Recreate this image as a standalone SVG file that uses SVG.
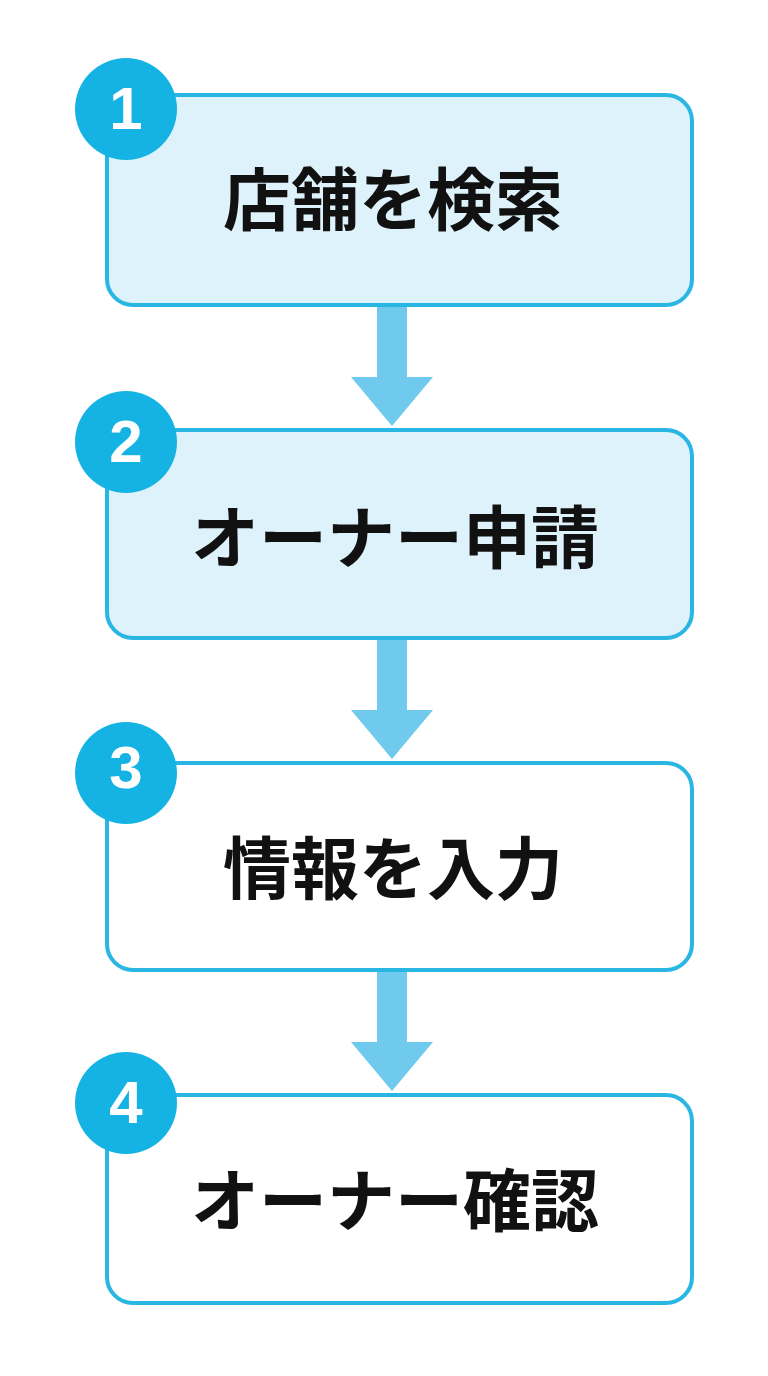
<svg xmlns="http://www.w3.org/2000/svg" width="768" height="1376" viewBox="0 0 768 1376">
<style>
.box{stroke:#29b6e3;stroke-width:4}
.fillb{fill:#def2fb}
.fillw{fill:#ffffff}
.badge{fill:#15b3e3}
.num{font-family:"Liberation Sans",Arial,sans-serif;font-weight:bold;font-size:60px;fill:#ffffff;text-anchor:middle}
.lbl{font-family:"Noto Sans CJK JP","Noto Sans",sans-serif;font-weight:700;font-size:68px;fill:#111111;text-anchor:middle}
.arr{fill:#6fcaee}
</style>
<rect width="768" height="1376" fill="#ffffff"/>
<g id="connectors">
<path class="arr" d="M377 307 H407 V377 H433 L392 426 L351 377 H377 Z"/>
<path class="arr" d="M377 640 H407 V710 H433 L392 759 L351 710 H377 Z"/>
<path class="arr" d="M377 972 H407 V1042 H433 L392 1091 L351 1042 H377 Z"/>
</g>
<g id="step1">
<rect class="box fillb" x="107" y="95" width="585" height="210" rx="26"/>
<circle class="badge" cx="126" cy="109" r="51"/>
<text class="num" x="126" y="129">1</text>
<text class="lbl" x="393" y="225">店舗を検索</text>
</g>
<g id="step2">
<rect class="box fillb" x="107" y="430" width="585" height="208" rx="26"/>
<circle class="badge" cx="126" cy="442" r="51"/>
<text class="num" x="126" y="462">2</text>
<text class="lbl" x="395" y="563">オーナー申請</text>
</g>
<g id="step3">
<rect class="box fillw" x="107" y="763" width="585" height="207" rx="26"/>
<circle class="badge" cx="126" cy="773" r="51"/>
<text class="num" x="126" y="788">3</text>
<text class="lbl" x="393" y="894">情報を入力</text>
</g>
<g id="step4">
<rect class="box fillw" x="107" y="1095" width="585" height="208" rx="26"/>
<circle class="badge" cx="126" cy="1103" r="51"/>
<text class="num" x="126" y="1123">4</text>
<text class="lbl" x="395" y="1226">オーナー確認</text>
</g>
</svg>
